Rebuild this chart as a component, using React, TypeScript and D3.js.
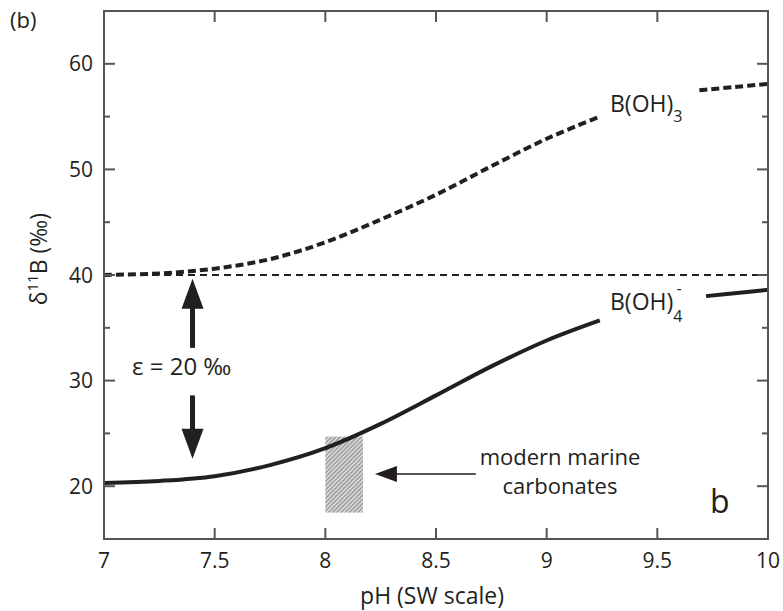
import React from 'react'
import * as d3 from 'd3'

// values
const boricPH = [7, 7.25, 7.5, 7.75, 8, 8.25, 8.5, 8.75, 9, 9.24]
const boricD = [40.0, 40.15, 40.6, 41.5, 43.1, 45.25, 47.6, 50.3, 52.9, 55.0]
const boricPH2 = [9.69, 9.85, 10]
const boricD2 = [57.5, 57.8, 58.1]

const boratePH = [7, 7.25, 7.5, 7.75, 8, 8.25, 8.5, 8.75, 9, 9.24]
const borateD = [20.3, 20.5, 20.95, 22.0, 23.6, 25.9, 28.6, 31.35, 33.8, 35.7]
const boratePH2 = [9.72, 9.86, 10]
const borateD2 = [38.0, 38.3, 38.6]

const seawaterD = 40
const carbonatePH = [8.0, 8.17]
const carbonateD = [17.5, 24.7]

const xTicks = [7, 7.5, 8, 8.5, 9, 9.5, 10]
const yTicks = [15, 20, 25, 30, 35, 40, 45, 50, 55, 60, 65]
const yLabels = [20, 30, 40, 50, 60]

const W = 783
const H = 611
const m = { left: 104, right: 15, top: 11, bottom: 72 }
const font = '"Open Sans", sans-serif'
const ink = '#231f20'
const frame = '#555'

const x = d3.scaleLinear().domain([7, 10]).range([m.left, W - m.right])
const y = d3.scaleLinear().domain([15, 65]).range([H - m.bottom, m.top])

const line = d3.line<[number, number]>()
  .x(d => x(d[0]))
  .y(d => y(d[1]))
  .curve(d3.curveCatmullRom.alpha(0.5))

const zip = (a: number[], b: number[]) => a.map((v, i) => [v, b[i]] as [number, number])

export default function App() {
  const x0 = x.range()[0], x1 = x.range()[1]
  const y0 = y.range()[0], y1 = y.range()[1]
  const ax = x(7.4)
  const tip = x(carbonatePH[1]) + 12
  return (
    <div style={{ position: 'absolute', left: 0, top: 0 }}>
      <svg width={W} height={H} style={{ display: 'block', background: '#fff' }}>
        <defs>
          <pattern id="hatch" patternUnits="userSpaceOnUse" width={3} height={3} patternTransform="rotate(45)">
            <rect width={3} height={3} fill="#d4d4d4" />
            <line x1={0} y1={0} x2={0} y2={3} stroke="#666" strokeWidth={1.3} />
          </pattern>
        </defs>

        <text x={10} y={28} fontFamily={font} fontSize={22} fill={ink}>(b)</text>

        {/* carbonate box */}
        <rect x={x(carbonatePH[0])} y={y(carbonateD[1])}
          width={x(carbonatePH[1]) - x(carbonatePH[0])}
          height={y(carbonateD[0]) - y(carbonateD[1])}
          fill="url(#hatch)" />

        {/* seawater line */}
        <line x1={x(7)} x2={x(9.98)} y1={y(seawaterD)} y2={y(seawaterD)}
          stroke={ink} strokeWidth={1.8} strokeDasharray="7 5" />

        {/* curves */}
        <path d={line(zip(boricPH, boricD)) || ''} fill="none" stroke={ink} strokeWidth={4} strokeDasharray="8 4" />
        <path d={line(zip(boricPH2, boricD2)) || ''} fill="none" stroke={ink} strokeWidth={4} strokeDasharray="8 4" />
        <path d={line(zip(boratePH, borateD)) || ''} fill="none" stroke={ink} strokeWidth={4} />
        <path d={line(zip(boratePH2, borateD2)) || ''} fill="none" stroke={ink} strokeWidth={4} />

        {/* frame */}
        <rect x={x0} y={y1} width={x1 - x0} height={y0 - y1} fill="none" stroke={frame} strokeWidth={2} />
        {xTicks.slice(1, -1).map(t => (
          <g key={'x' + t}>
            <line x1={x(t)} x2={x(t)} y1={y0} y2={y0 - 11} stroke={frame} strokeWidth={2} />
            <line x1={x(t)} x2={x(t)} y1={y1} y2={y1 + 11} stroke={frame} strokeWidth={2} />
          </g>
        ))}
        {xTicks.map(t => (
          <text key={'xl' + t} x={x(t)} y={568} textAnchor="middle" fontFamily={font} fontSize={21} fill={ink}>{t}</text>
        ))}
        {yTicks.slice(1, -1).map(t => {
          const len = yLabels.includes(t) ? 11 : 6
          return (
            <g key={'y' + t}>
              <line x1={x0} x2={x0 + len} y1={y(t)} y2={y(t)} stroke={frame} strokeWidth={2} />
              <line x1={x1} x2={x1 - len} y1={y(t)} y2={y(t)} stroke={frame} strokeWidth={2} />
            </g>
          )
        })}
        {yLabels.map(t => (
          <text key={'yl' + t} x={93} y={y(t)} dy="0.36em" textAnchor="end" fontFamily={font} fontSize={21} fill={ink}>{t}</text>
        ))}

        <text x={432} y={604} textAnchor="middle" fontFamily={font} fontSize={23} fill={ink}>pH (SW scale)</text>
        <text transform={`translate(47,${y(41.5)}) rotate(-90)`} textAnchor="middle" fontFamily={font} fontSize={23} fill={ink}>
          δ<tspan fontSize={15} dy={-9}>11</tspan><tspan dy={9}>B (‰)</tspan>
        </text>

        {/* series labels */}
        <text x={610} y={112} fontFamily={font} fontSize={23} fill={ink}>
          B(OH)<tspan fontSize={16} dy={10}>3</tspan>
        </text>
        <text x={610} y={310} fontFamily={font} fontSize={23} fill={ink}>
          B(OH)<tspan fontSize={16} dy={12}>4</tspan><tspan fontSize={16} dx={-6} dy={-28}>-</tspan>
        </text>

        {/* epsilon arrows */}
        <line x1={ax} x2={ax} y1={y(38.2)} y2={y(33.1)} stroke={ink} strokeWidth={5} />
        <path d={`M${ax},${y(40.6) + 10} l-11,30 h22 z`} fill={ink} />
        <line x1={ax} x2={ax} y1={y(28.6)} y2={y(23.5)} stroke={ink} strokeWidth={5} />
        <path d={`M${ax},${y(22.6)} l-11,-30 h22 z`} fill={ink} />
        <text x={132} y={375} fontFamily={font} fontSize={24} fill={ink}>ε = 20 ‰</text>

        {/* carbonate annotation */}
        <line x1={tip + 18} x2={x(8.68)} y1={474} y2={474} stroke="#555" strokeWidth={2} />
        <path d={`M${tip},474 l22,-8 v16 z`} fill={ink} />
        <text x={560} y={465} textAnchor="middle" fontFamily={font} fontSize={22} fill={ink}>modern marine</text>
        <text x={560} y={494} textAnchor="middle" fontFamily={font} fontSize={22} fill={ink}>carbonates</text>

        <text x={710} y={513} fontFamily={font} fontSize={32} fill={ink}>b</text>
      </svg>
    </div>
  )
}
